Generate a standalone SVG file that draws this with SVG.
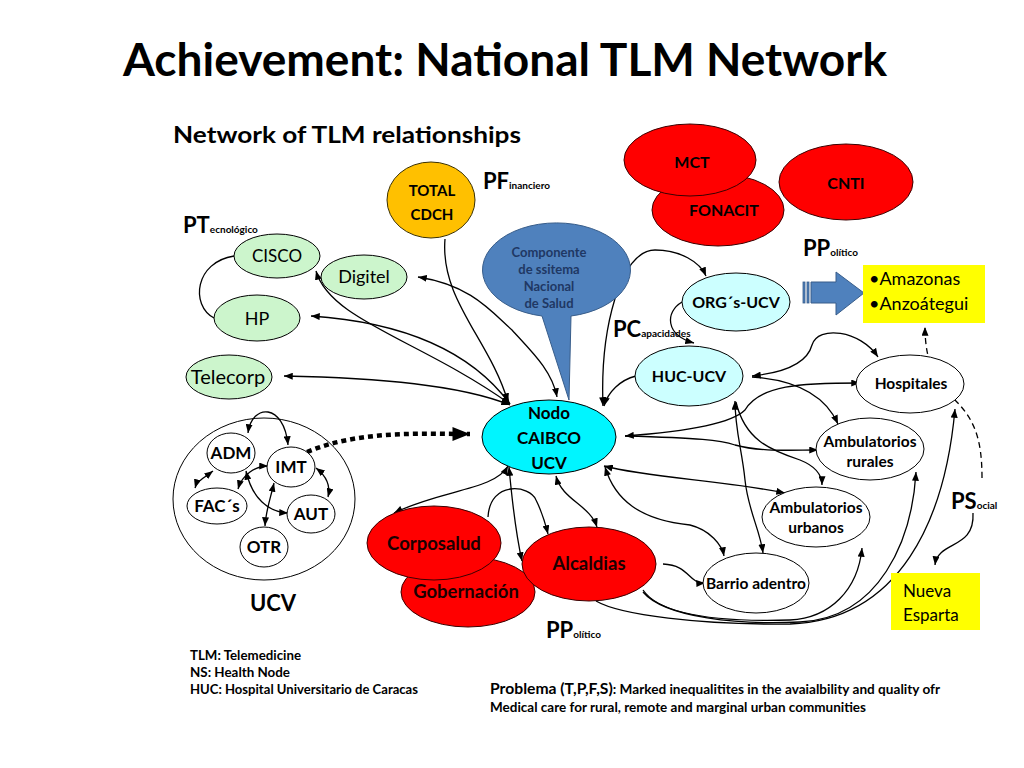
<svg xmlns="http://www.w3.org/2000/svg" width="1024" height="768" viewBox="0 0 1024 768">
<defs>
<marker id="ar" viewBox="0 0 10 8" refX="10" refY="4" markerWidth="9" markerHeight="7" markerUnits="userSpaceOnUse" orient="auto-start-reverse"><path d="M0,0 L10,4 L0,8 z" fill="#000"/></marker>
<marker id="arb" viewBox="0 0 10 8" refX="10" refY="4" markerWidth="18" markerHeight="14" markerUnits="userSpaceOnUse" orient="auto"><path d="M0,0 L10,4 L0,8 z" fill="#000"/></marker>
</defs>
<style>
text{font-family:Lato,"Liberation Sans",sans-serif;fill:#000}
.b{font-weight:bold}
.c{text-anchor:middle}
.red{fill:#ff0000;stroke:#3a0000;stroke-width:1}
.grn{fill:#ccf5cc;stroke:#000;stroke-width:1}
.wh{fill:#fff;stroke:#000;stroke-width:1}
.lc{fill:#ccffff;stroke:#000;stroke-width:1}
.cn{fill:none;stroke:#000;stroke-width:1.3}
.ab{marker-start:url(#ar);marker-end:url(#ar)}
.ae{marker-end:url(#ar)}
.lbl{font-weight:bold;font-size:22px}
.sub{font-weight:bold;font-size:10px}
.nv{fill:#1f3864;font-weight:bold;font-size:13px;text-anchor:middle}
.rt{font-weight:bold;font-size:18.5px;text-anchor:middle;fill:#1a0000}
.wt{font-weight:bold;font-size:15.5px;text-anchor:middle}
.ut{font-weight:bold;font-size:17px;text-anchor:middle}
</style>
<rect width="1024" height="768" fill="#fff"/>
<text x="123" y="76" class="b" font-size="46" textLength="764" lengthAdjust="spacingAndGlyphs">Achievement: National TLM Network</text>
<text x="173" y="143" class="b" font-size="23" textLength="348" lengthAdjust="spacingAndGlyphs">Network of TLM relationships</text>

<g id="labels">
<text x="483" y="189"><tspan class="lbl">PF</tspan><tspan class="sub">inanciero</tspan></text>
<text x="183" y="233"><tspan class="lbl">PT</tspan><tspan class="sub">ecnológico</tspan></text>
<text x="803" y="256"><tspan class="lbl">PP</tspan><tspan class="sub">olítico</tspan></text>
<text x="613" y="337"><tspan class="lbl">PC</tspan><tspan class="sub">apacidades</tspan></text>
<text x="951" y="509"><tspan class="lbl">PS</tspan><tspan class="sub">ocial</tspan></text>
<text x="546" y="638"><tspan class="lbl">PP</tspan><tspan class="sub">olítico</tspan></text>
</g>

<g id="connectors">
<path class="cn" d="M234,256 C195,262 190,305 214,318"/>
<path class="cn ab" d="M316,271 C330,320 420,340 510,404"/>
<path class="cn ab" d="M418,277 C470,285 490,310 512,330 C530,350 552,370 557,397"/>
<path class="cn ab" d="M311,316 C400,322 470,350 510,404"/>
<path class="cn ab" d="M284,376 C380,378 460,385 510,405"/>
<path class="cn ae" d="M445,239 C440,300 490,340 508,402"/>
<path class="cn ab" d="M603,406 C600,330 620,250 655,250 C680,250 700,262 706,276"/>
<path class="cn ae" d="M682,302 C665,312 665,335 694,343"/>
<path class="cn ae" d="M636,376 C620,380 608,392 604,406"/>
<path class="cn ab" d="M752,376 C790,372 808,360 812,345 C818,325 860,330 878,357"/>
<path class="cn ab" d="M625,436 C680,432 730,425 745,410 C760,385 800,383 860,383"/>
<path class="cn ae" d="M625,436 C700,438 720,440 735,445 C760,452 790,450 818,450"/>
<path class="cn ae" d="M752,377 C795,380 825,395 838,424"/>
<path class="cn ae" d="M736,402 C745,440 770,450 800,460 C815,466 822,475 822,485"/>
<path class="cn ab" d="M735,401 C735,430 742,450 745,480 C748,510 760,530 763,553"/>
<path class="cn ab" d="M604,466 C650,478 720,480 785,493"/>
<path class="cn ab" d="M605,467 C615,500 640,520 690,525 C710,530 722,545 724,556"/>
<path class="cn ae" d="M663,564 C690,565 688,584 705,583"/>
<path class="cn ae" d="M643,590 C660,615 720,622 790,620 C830,618 858,590 862,548"/>
<path class="cn ae" d="M643,592 C665,618 740,625 800,622 C880,618 912,540 916,472"/>
<path class="cn ae" d="M596,601 C620,615 700,625 790,624 C900,620 945,520 955,409"/>
<path class="cn ab" d="M508,466 C495,490 440,490 394,513"/>
<path class="cn ae" d="M488,517 C490,480 530,485 536,500 C542,512 545,522 548,534"/>
<path class="cn ab" d="M509,467 C512,500 515,530 522,561"/>
<path class="cn ab" d="M556,476 C562,500 590,505 597,527"/>
<path class="cn ae" d="M982,478 C982,440 975,420 955,400 C935,385 925,360 925,327" stroke-dasharray="6,4"/>
<path class="cn ae" d="M973,513 C975,550 938,540 935,565"/>
<path d="M307,452 C360,430 420,434 470,434" fill="none" stroke="#000" stroke-width="4.5" stroke-dasharray="5,4" marker-end="url(#arb)"/>
<path class="cn ab" d="M248,433 C252,403 284,403 288,445"/>
<path class="cn ab" d="M213,471 C205,477 197,481 195,488"/>
<path class="cn ab" d="M268,466 C255,466 242,475 238,489"/>
<path class="cn ab" d="M246,471 C252,498 268,512 288,513"/>
<path class="cn ab" d="M316,468 C325,475 331,485 328,497"/>
<path class="cn ab" d="M274,483 C270,500 266,510 265,526"/>
</g>

<g id="total-cdch"><ellipse cx="431" cy="200" rx="44" ry="38" fill="#ffc000" stroke="#3a3000"/><text x="432" y="196" class="b c" font-size="15">TOTAL</text><text x="432" y="220" class="b c" font-size="15">CDCH</text></g>
<g id="fonacit"><ellipse cx="718" cy="210" rx="66" ry="36" class="red"/><text x="724" y="216" class="b c" font-size="16" fill="#1a0000">FONACIT</text></g>
<g id="mct"><ellipse cx="690" cy="160" rx="66" ry="36" class="red"/><text x="692" y="168" class="b c" font-size="16">MCT</text></g>
<g id="cnti"><ellipse cx="846" cy="182" rx="67" ry="38" class="red"/><text x="846" y="189" class="b c" font-size="16">CNTI</text></g>
<g id="cisco"><ellipse cx="277" cy="256" rx="43" ry="22" class="grn"/><text x="277" y="262" class="c" font-size="17">CISCO</text></g>
<g id="digitel"><ellipse cx="364" cy="277" rx="43" ry="22" class="grn"/><text x="364" y="283" class="c" font-size="18">Digitel</text></g>
<g id="hp"><ellipse cx="257" cy="318" rx="43" ry="23" class="grn"/><text x="257" y="325" class="c" font-size="18">HP</text></g>
<g id="telecorp"><ellipse cx="229" cy="377" rx="43" ry="22" class="grn"/><text x="228" y="384" class="c" font-size="20">Telecorp</text></g>
<g id="componente"><path d="M542,316 A74,47 0 1 1 571,316 L569,400 Z" fill="#4f81bd" stroke="#385d8a"/><text x="549" y="257" class="nv">Componente</text><text x="549" y="274" class="nv">de  ssitema</text><text x="549" y="291" class="nv">Nacional</text><text x="549" y="308" class="nv">de Salud</text></g>
<g id="nodo"><ellipse cx="549" cy="437" rx="67" ry="37" fill="#00f5ff" stroke="#000"/><text x="549" y="419" class="b c" font-size="17">Nodo</text><text x="549" y="444" class="b c" font-size="17">CAIBCO</text><text x="549" y="469" class="b c" font-size="17">UCV</text></g>
<g id="orgs"><ellipse cx="736" cy="302" rx="54" ry="29" class="lc"/><text x="736" y="308" class="b c" font-size="16">ORG´s-UCV</text></g>
<g id="huc"><ellipse cx="689" cy="376" rx="54" ry="30" class="lc"/><text x="689" y="382" class="b c" font-size="16">HUC-UCV</text></g>
<g id="arrow-big"><path d="M811,282 L836,282 L836,272 L864,293 L836,315 L836,303 L811,303 Z" fill="#4f81bd" stroke="#385d8a"/><rect x="803" y="282" width="2" height="21" fill="#4f81bd" stroke="#385d8a" stroke-width="0.8"/><rect x="807" y="282" width="2" height="21" fill="#4f81bd" stroke="#385d8a" stroke-width="0.8"/></g>
<g id="amazonas"><rect x="863" y="265" width="122" height="58" fill="#ffff00"/><text x="869" y="285" font-size="18">•Amazonas</text><text x="869" y="310" font-size="18">•Anzoátegui</text></g>
<g id="hospitales"><ellipse cx="910" cy="384" rx="54" ry="29" class="wh"/><text x="911" y="389" class="wt">Hospitales</text></g>
<g id="amb-rurales"><ellipse cx="870" cy="449" rx="54" ry="31" class="wh"/><text x="870" y="447" class="wt">Ambulatorios</text><text x="870" y="467" class="wt">rurales</text></g>
<g id="amb-urbanos"><ellipse cx="816" cy="517" rx="54" ry="30" class="wh"/><text x="816" y="513" class="wt">Ambulatorios</text><text x="816" y="533" class="wt">urbanos</text></g>
<g id="barrio"><ellipse cx="756" cy="583" rx="53" ry="30" class="wh"/><text x="756" y="589" class="wt">Barrio adentro</text></g>
<g id="nueva-esparta"><rect x="891" y="573" width="89" height="57" fill="#ffff00"/><text x="903" y="597" font-size="17">Nueva</text><text x="903" y="621" font-size="17">Esparta</text></g>
<g id="gobernacion"><ellipse cx="468" cy="592" rx="67" ry="35" class="red"/><text x="466" y="598" class="rt">Gobernación</text></g>
<g id="corposalud"><ellipse cx="434" cy="543" rx="67" ry="37" class="red"/><text x="434" y="550" class="rt">Corposalud</text></g>
<g id="alcaldias"><ellipse cx="589" cy="564" rx="67" ry="37" class="red"/><text x="589" y="570" class="rt">Alcaldias</text></g>
<g id="ucv"><ellipse cx="264" cy="499" rx="91" ry="81" fill="none" stroke="#000"/><text x="273" y="611" class="b c" font-size="22">UCV</text></g>
<g id="adm"><ellipse cx="231" cy="453" rx="24" ry="20" class="wh"/><text x="231" y="459" class="ut">ADM</text></g>
<g id="imt"><ellipse cx="291" cy="467" rx="24" ry="20" class="wh"/><text x="291" y="473" class="ut">IMT</text></g>
<g id="facs"><ellipse cx="217" cy="506" rx="30" ry="18" class="wh"/><text x="217" y="512" class="ut">FAC´s</text></g>
<g id="aut"><ellipse cx="311" cy="514" rx="24" ry="19" class="wh"/><text x="311" y="520" class="ut">AUT</text></g>
<g id="otr"><ellipse cx="264" cy="547" rx="24" ry="20" class="wh"/><text x="264" y="553" class="ut">OTR</text></g>

<g id="notes">
<text x="190" y="660" class="b" font-size="13" textLength="111" lengthAdjust="spacingAndGlyphs">TLM: Telemedicine</text>
<text x="190" y="677" class="b" font-size="13" textLength="100" lengthAdjust="spacingAndGlyphs">NS: Health Node</text>
<text x="190" y="694" class="b" font-size="13" textLength="228" lengthAdjust="spacingAndGlyphs">HUC: Hospital Universitario de Caracas</text>
<text x="490" y="694" class="b" textLength="450" lengthAdjust="spacingAndGlyphs"><tspan font-size="15">Problema (T,P,F,S)</tspan><tspan font-size="13">: Marked inequalitites in the avaialbility and quality ofr</tspan></text>
<text x="490" y="712" class="b" font-size="13" textLength="376" lengthAdjust="spacingAndGlyphs">Medical care for rural, remote and marginal urban communities</text>
</g>
</svg>
